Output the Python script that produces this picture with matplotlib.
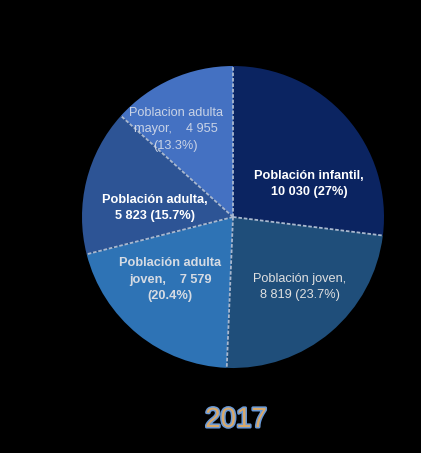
import matplotlib
matplotlib.use("Agg")
import numpy as np
import matplotlib.pyplot as plt
import matplotlib.patheffects as pe

categories = ["Población infantil", "Población joven", "Población adulta joven",
              "Población adulta", "Poblacion adulta mayor"]
values = [10030, 8819, 7579, 5823, 4955]
percents = ["27%", "23.7%", "20.4%", "15.7%", "13.3%"]
year = "2017"

label_texts = [
    "Población infantil,\n10 030 (27%)",
    "Población joven,\n8 819 (23.7%)",
    "Población adulta\njoven,    7 579\n(20.4%)",
    "Población adulta,\n5 823 (15.7%)",
    "Poblacion adulta\nmayor,    4 955\n(13.3%)",
]
colors = ["#0b2461", "#1f4e7a", "#2e73b5", "#2d5495", "#4471c2"]
text_colors = ["white", "#e0e0e0", "#d6dbe3", "white", "#c9d3e6"]
text_weights = ["bold", "normal", "bold", "bold", "normal"]
label_px = [(309, 184), (300, 287), (170, 280), (155, 208), (176, 129)]

fam = "Liberation Sans"

W, H = 421, 453
CX, CY, R = 233, H - 217, 151
fig = plt.figure(figsize=(W / 100, H / 100), dpi=100)
fig.patch.set_facecolor("black")
ax = fig.add_axes([0, 0, 1, 1])
ax.set_facecolor("black")

wedges, _ = ax.pie(values, colors=colors, startangle=90, counterclock=False,
                   center=(CX, CY), radius=R, frame=True,
                   wedgeprops=dict(edgecolor="none", linewidth=0))
# radial separator lines at wedge boundaries
for wdg in wedges:
    a = np.deg2rad(wdg.theta1)
    ax.plot([CX, CX + R * np.cos(a)], [CY, CY + R * np.sin(a)],
            color="#a9b8cf", lw=1.3, ls=(0, (2, 1)), solid_capstyle="butt")

ax.set_xlim(0, W)
ax.set_ylim(0, H)
ax.set_aspect("equal")
ax.axis("off")

for txt, (x, y), c, w in zip(label_texts, label_px, text_colors, text_weights):
    ax.text(x, H - y, txt, ha="center", va="center", color=c, fontsize=9.2,
            fontweight=w, family=fam, linespacing=1.5)

ax.text(236, H - 420, year, ha="center", va="center", fontsize=20, family=fam,
        color="#d9a96a",
        path_effects=[pe.withStroke(linewidth=2.2, foreground="#6a9ad8")])

fig.savefig("out.png", dpi=100, facecolor="black")
